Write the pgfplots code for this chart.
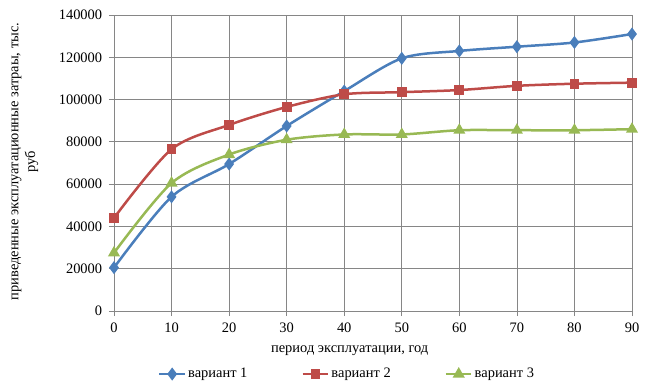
\documentclass[border=0pt]{standalone}
\usepackage{fontspec}
\setmainfont{Liberation Serif}
\usepackage{pgfplots}
\pgfplotsset{compat=1.18}
\definecolor{c1}{HTML}{4A7EBB}
\definecolor{c2}{HTML}{BE4B48}
\definecolor{c3}{HTML}{98B954}
\definecolor{gr}{HTML}{868686}
\begin{document}
\fontsize{14}{17}\selectfont
\begin{tikzpicture}
\begin{axis}[
 scale only axis, width=518bp, height=296bp,
 xmin=0,xmax=90,ymin=0,ymax=140000,
 xtick={0,10,...,90}, ytick={0,20000,...,140000},
 scaled y ticks=false,
 yticklabel style={/pgf/number format/fixed, /pgf/number format/1000 sep={}},
 /pgf/number format/assume math mode=true,
 every tick label/.append style={font=\fontsize{14.5}{17}\selectfont},
 xticklabel style={yshift=-2bp},
 yticklabel style={xshift=-2bp},
 grid=major, major grid style={gr, line width=0.75bp},
 axis line style={gr, line width=0.75bp},
 tick style={gr, line width=0.75bp},
 tick align=outside, major tick length=5bp,
 xtick pos=bottom, ytick pos=left,
 xlabel={период эксплуатации, год},
 xlabel style={font=\fontsize{14.5}{17}\selectfont, at={(axis description cs:0.455,-0.135)}, anchor=center},
 ylabel={приведенные эксплуатационные затраы, тыс.\\руб},
 ylabel style={font=\fontsize{14.5}{17}\selectfont, align=center, at={(axis description cs:-0.172,0.505)}, anchor=center},
 legend style={at={(axis description cs:0.45,-0.213)}, anchor=center, draw=none, legend columns=3, font=\fontsize{14.5}{17}\selectfont, /tikz/every even column/.append style={column sep=52bp}},
 legend image code/.code={\draw[mark repeat=2,mark phase=2] plot coordinates {(0cm,0cm) (0.45cm,0cm) (0.9cm,0cm)};},
]
\addplot[c1, line width=2.5bp, smooth, tension=0.5, mark=diamond*, mark size=4.5bp, mark options={solid, fill=c1}] coordinates {
(0,20500) (10,54000) (20,69500) (30,87500) (40,104000) (50,119500) (60,123000) (70,125000) (80,127000) (90,131000)};
\addlegendentry{вариант 1}
\addplot[c2, line width=2.5bp, smooth, tension=0.5, mark=square*, mark size=3.6bp, mark options={solid, fill=c2}] coordinates {
(0,44000) (10,76500) (20,88000) (30,96500) (40,102500) (50,103500) (60,104500) (70,106500) (80,107500) (90,108000)};
\addlegendentry{вариант 2}
\addplot[c3, line width=2.5bp, smooth, tension=0.5, mark=triangle*, mark size=4.5bp, mark options={solid, fill=c3}] coordinates {
(0,27500) (10,60500) (20,74000) (30,81000) (40,83500) (50,83500) (60,85500) (70,85500) (80,85500) (90,86000)};
\addlegendentry{вариант 3}
\end{axis}
\pgfresetboundingbox
\path ([xshift=-114bp,yshift=-74bp]current axis.south west) rectangle ([xshift=13bp,yshift=15bp]current axis.north east);
\end{tikzpicture}
\end{document}
